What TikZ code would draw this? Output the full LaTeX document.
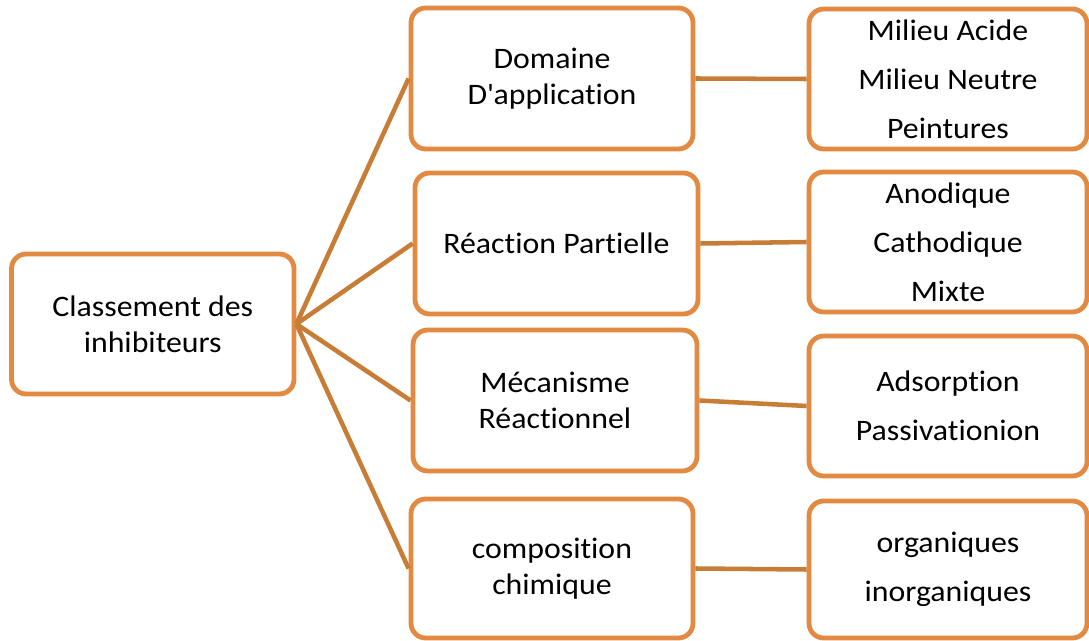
\documentclass[tikz,border=0pt]{standalone}
\usepackage{fontspec}
\setmainfont{Carlito}[FakeStretch=1.07,Ligatures={NoCommon,NoRequired,NoContextual}]
\definecolor{boxorange}{RGB}{226,138,66}
\definecolor{lineorange}{RGB}{200,125,55}
\begin{document}
\begin{tikzpicture}[x=0.75pt,y=-0.75pt,
  box/.style={draw=boxorange,line width=3.6pt,fill=white,rounded corners=11pt,
    align=center,inner sep=0pt,font=\fontsize{22.3}{27}\selectfont},
  listbox/.style={box,font=\fontsize{22.3}{36.75}\selectfont},
  link/.style={draw=lineorange,line width=3.4pt}]
\useasboundingbox (0,0) rectangle (1089,641);
% node positions
\coordinate (pL) at (152.75,324);
\coordinate (pM1) at (552,78.5);
\coordinate (pM2) at (556.5,243.5);
\coordinate (pM3) at (555,400.5);
\coordinate (pM4) at (552,568.5);
\coordinate (pR1) at (948,79);
\coordinate (pR2) at (948,242);
\coordinate (pR3) at (948,406);
\coordinate (pR4) at (948,569.5);
\node[box,minimum width=282.5*0.75pt,minimum height=140*0.75pt] (L) at (pL) {Classement des\\inhibiteurs};
\node[box,minimum width=282*0.75pt,minimum height=141*0.75pt] (M1) at (pM1) {Domaine\\D\textquotesingle application};
\node[box,minimum width=283*0.75pt,minimum height=141*0.75pt] (M2) at (pM2) {Réaction Partielle};
\node[box,minimum width=284*0.75pt,minimum height=141*0.75pt] (M3) at (pM3) {Mécanisme\\Réactionnel};
\node[box,minimum width=282*0.75pt,minimum height=139*0.75pt] (M4) at (pM4) {composition\\chimique};
\node[listbox,minimum width=278*0.75pt,minimum height=140*0.75pt] (R1) at (pR1) {Milieu Acide\\Milieu Neutre\\Peintures};
\node[listbox,minimum width=278*0.75pt,minimum height=140*0.75pt] (R2) at (pR2) {Anodique\\Cathodique\\Mixte};
\node[listbox,minimum width=278*0.75pt,minimum height=140*0.75pt] (R3) at (pR3) {Adsorption\\Passivationion};
\node[listbox,minimum width=278*0.75pt,minimum height=137*0.75pt] (R4) at (pR4) {organiques\\inorganiques};
\foreach \m in {M1,M2,M3,M4}{\path[link] (L.east) -- (\m.west);}
\path[link] (M1.east) -- (R1.west);
\path[link] (M2.east) -- (R2.west);
\path[link] (M3.east) -- (R3.west);
\path[link] (M4.east) -- (R4.west);
\end{tikzpicture}
\end{document}
